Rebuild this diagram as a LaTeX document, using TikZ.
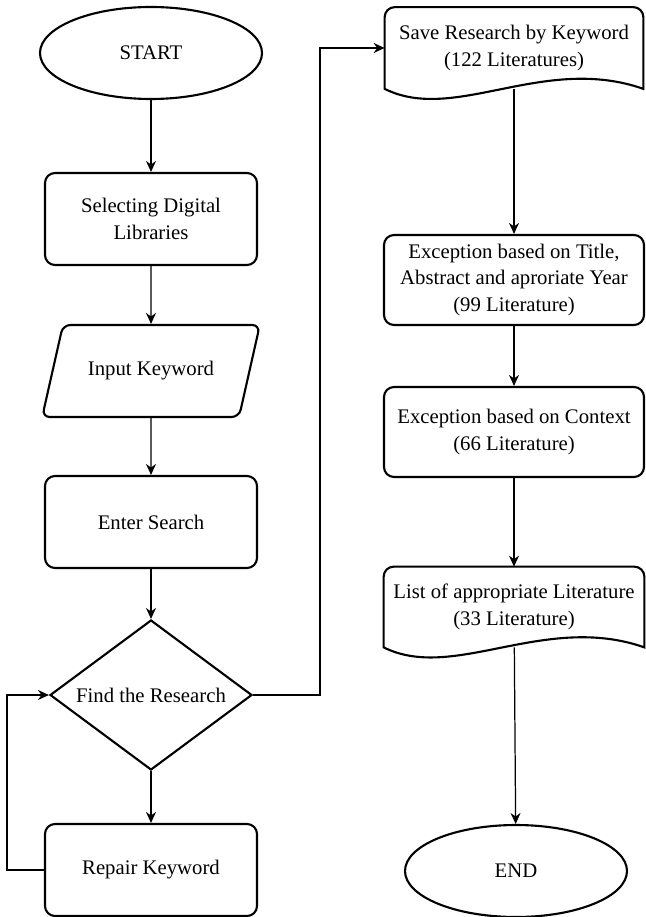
\documentclass[tikz,border=0pt]{standalone}
\usepackage{fontspec}
\setmainfont{Liberation Serif}
\usetikzlibrary{shapes.geometric,arrows.meta}

\begin{document}
\begin{tikzpicture}[
  font=\fontsize{11.8}{15.3}\selectfont,
  terminal/.style={draw, ellipse, line width=1.2pt, minimum width=4.44cm, minimum height=1.84cm, inner sep=0pt},
  process/.style={draw, rectangle, rounded corners=0.2cm, line width=1.2pt, minimum width=4.24cm, minimum height=1.84cm, align=center},
  inputbox/.style={draw, trapezium, trapezium left angle=62, trapezium right angle=118, trapezium stretches=true, rounded corners=0.15cm, line width=1.2pt, minimum width=4.36cm, minimum height=1.84cm},
  decision/.style={draw, diamond, aspect=1.35, line width=1.2pt, minimum width=4.04cm, minimum height=3cm, inner sep=0pt},
  docbox/.style={rectangle, minimum width=5.16cm, minimum height=1.62cm, align=center},
  docline/.style={line width=1.2pt},
  arrow/.style={-{Stealth[length=0.22cm, width=0.2cm]}, line width=0.7pt}
]
\useasboundingbox (0,0) rectangle (12.9,-18.34);

% Left column
\node[terminal] (start) at (3.02,-1.06) {START};
\node[process] (select) at (3.02,-4.38) {Selecting Digital\\Libraries};
\node[inputbox] (input) at (3.02,-7.42) {Input Keyword};
\node[process] (search) at (3.02,-10.44) {Enter Search};
\node[decision] (find) at (3.02,-13.9) {Find the Research};
\node[process] (repair) at (3.02,-17.4) {Repair Keyword};

% Right column
\node[docbox] (save) at (10.28,-0.96) {Save Research by Keyword\\(122 Literatures)};
\draw[docline] (save.south west) [rounded corners=0.2cm] -- (save.north west) -- (save.north east) [sharp corners] -- (save.south east) .. controls +(-2.0,0.7) and +(1.4,-0.7) .. (save.south west) -- cycle;
\node[process, minimum width=5.2cm, minimum height=1.8cm] (exc1) at (10.28,-5.6) {Exception based on Title,\\Abstract and aproriate Year\\(99 Literature)};
\node[process, minimum width=5.2cm, minimum height=1.8cm] (exc2) at (10.28,-8.64) {Exception based on Context\\(66 Literature)};
\node[docbox, minimum width=5.2cm, minimum height=1.6cm] (list) at (10.28,-12.14) {List of appropriate Literature\\(33 Literature)};
\draw[docline] (list.south west) [rounded corners=0.2cm] -- (list.north west) -- (list.north east) [sharp corners] -- (list.south east) .. controls +(-2.0,0.7) and +(1.4,-0.7) .. (list.south west) -- cycle;
\node[terminal] (end) at (10.32,-17.42) {END};

% Arrows
\draw[arrow] (start) -- (select);
\draw[arrow] (select) -- (input);
\draw[arrow] (input) -- (search);
\draw[arrow] (search) -- (find);
\draw[arrow] (find) -- (repair);
\draw[arrow] (repair.west) -- ++(-0.74,0) |- (find.west);
\draw[arrow] (find.east) -- ++(1.34,0) |- (save.west);
\draw[arrow] (save) -- (exc1);
\draw[arrow] (exc1) -- (exc2);
\draw[arrow] (exc2) -- (list);
\draw[arrow] (list) -- (end);
\end{tikzpicture}
\end{document}
